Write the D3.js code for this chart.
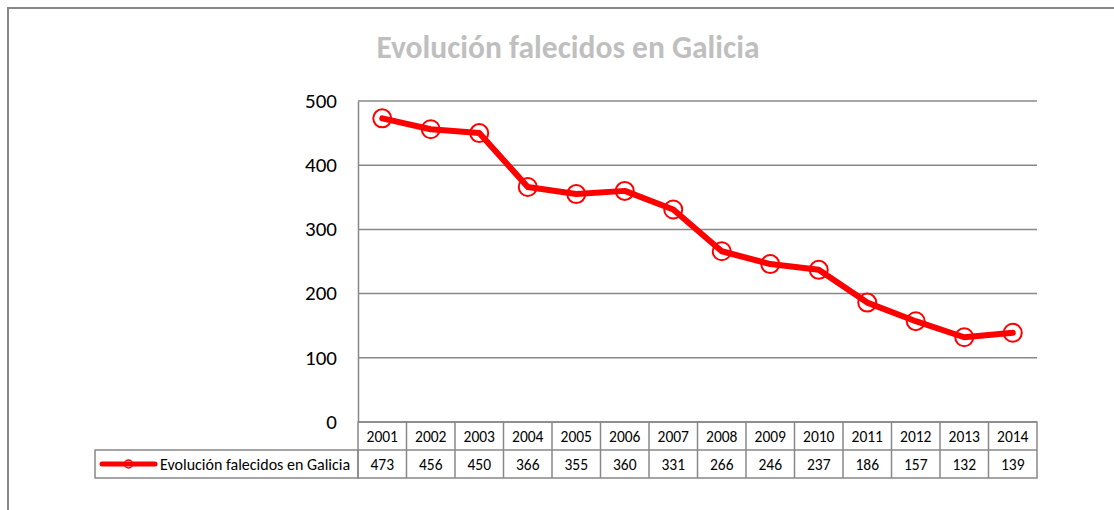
<!DOCTYPE html>
<html>
<head>
<meta charset="utf-8">
<script src="https://cdn.jsdelivr.net/npm/d3@7"></script>
<style>
body { margin:0; background:#fff; }
svg text { font-family: Carlito, Calibri, "Open Sans", "Liberation Sans", sans-serif; }
</style>
</head>
<body>
<div id="chart"></div>
<script>
const title = 'Evolución falecidos en Galicia';
const seriesName = 'Evolución falecidos en Galicia';
const years = ['2001','2002','2003','2004','2005','2006','2007','2008','2009','2010','2011','2012','2013','2014'];
const deaths = [473,456,450,366,355,360,331,266,246,237,186,157,132,139];
const yTicks = [0,100,200,300,400,500];

const width = 1114, height = 510;
const plotL = 358, plotR = 1037, plotT = 101, plotB = 422;
const rowH = 28, legendLeft = 95;
const grey = '#888';

const root = d3.select('#chart').append('svg')
  .attr('width', width).attr('height', height);

root.append('rect').attr('width', width).attr('height', height).attr('fill', '#fff');
// outer chart border (runs off the right and bottom of the picture)
root.append('rect')
  .attr('x', 8).attr('y', 8).attr('width', width + 20).attr('height', height + 20)
  .attr('fill', 'none').attr('stroke', grey).attr('stroke-width', 2);

root.append('text')
  .attr('x', 568).attr('y', 58)
  .attr('text-anchor', 'middle')
  .attr('font-size', 31.5).attr('font-weight', 'bold')
  .attr('fill', '#bfbfbf')
  .text(title);

const x = d3.scaleBand().domain(years).range([plotL, plotR]);
const y = d3.scaleLinear().domain([0, 500]).range([plotB, plotT]);

// gridlines
root.append('g').selectAll('line').data(yTicks).join('line')
  .attr('x1', plotL).attr('x2', plotR)
  .attr('y1', d => y(d)).attr('y2', d => y(d))
  .attr('stroke', grey).attr('stroke-width', 1.5);

// y axis
const ya = root.append('g').attr('transform', `translate(${plotL},0)`)
  .call(d3.axisLeft(y).tickValues(yTicks).tickSize(0).tickPadding(21));
ya.select('.domain').attr('stroke', grey).attr('stroke-width', 1.5);
ya.selectAll('text').attr('font-size', 21).attr('fill', '#000')
  .attr('font-family', 'Carlito, Calibri, "Open Sans", sans-serif')
  .attr('dy', '0.3em');

// data table
const tbl = root.append('g').attr('stroke', grey).attr('stroke-width', 1.5).attr('fill', 'none');
tbl.append('rect').attr('x', plotL).attr('y', plotB).attr('width', plotR - plotL).attr('height', rowH * 2);
tbl.append('rect').attr('x', legendLeft).attr('y', plotB + rowH).attr('width', plotL - legendLeft).attr('height', rowH);
tbl.append('line').attr('x1', plotL).attr('x2', plotR).attr('y1', plotB + rowH).attr('y2', plotB + rowH);
tbl.selectAll('line.col').data(years.slice(1)).join('line')
  .attr('x1', d => x(d)).attr('x2', d => x(d))
  .attr('y1', plotB).attr('y2', plotB + rowH * 2);

const cells = root.append('g').attr('text-anchor', 'middle').attr('font-size', 15.5).attr('fill', '#000');
cells.selectAll('text.yr').data(years).join('text')
  .attr('x', d => x(d) + x.bandwidth() / 2).attr('y', plotB + rowH / 2 + 5.5)
  .text(d => d);
cells.selectAll('text.val').data(deaths).join('text')
  .attr('x', (d, i) => x(years[i]) + x.bandwidth() / 2).attr('y', plotB + rowH * 1.5 + 5.5)
  .text(d => d);

// legend key
const ly = plotB + rowH * 1.5;
root.append('line').attr('x1', 102).attr('x2', 155).attr('y1', ly).attr('y2', ly)
  .attr('stroke', 'red').attr('stroke-width', 5).attr('stroke-linecap', 'round');
root.append('circle').attr('cx', 128.5).attr('cy', ly).attr('r', 4)
  .attr('fill', 'none').attr('stroke', 'red').attr('stroke-width', 1.5);
root.append('text').attr('x', 160).attr('y', ly + 5.5).attr('font-size', 16).attr('fill', '#000')
  .text(seriesName);

// series
const cx = i => x(years[i]) + x.bandwidth() / 2;
root.append('path')
  .attr('d', d3.line().x((d, i) => cx(i)).y(d => y(d))(deaths))
  .attr('fill', 'none').attr('stroke', 'red').attr('stroke-width', 6)
  .attr('stroke-linejoin', 'round').attr('stroke-linecap', 'round');
root.append('g').selectAll('circle').data(deaths).join('circle')
  .attr('cx', (d, i) => cx(i)).attr('cy', d => y(d)).attr('r', 9)
  .attr('fill', 'none').attr('stroke', 'red').attr('stroke-width', 2);
</script>
</body>
</html>
